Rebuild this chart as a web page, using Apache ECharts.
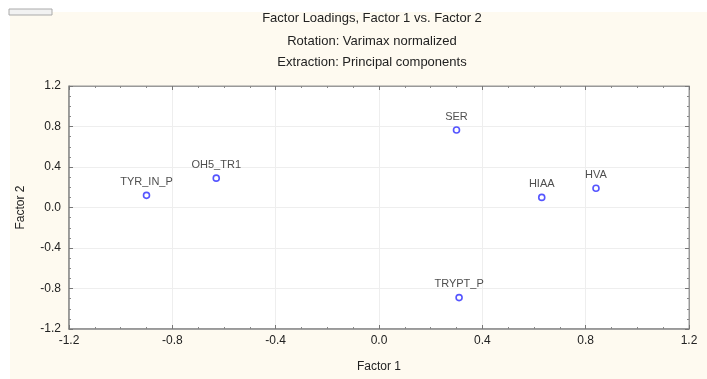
<!DOCTYPE html>
<html>
<head>
<meta charset="utf-8">
<script src="https://cdn.jsdelivr.net/npm/echarts@6/dist/echarts.min.js"></script>
<style>
  html,body{margin:0;padding:0;background:#fff;}
  #chart{width:707px;height:379px;}
</style>
</head>
<body>
<div id="chart"></div>
<script>
// 变量名称
var names=['TYR_IN_P','OH5_TR1','SER','HIAA','HVA','TRYPT_P'];
// Factor 1 载荷
var factor1=[-0.90,-0.63,0.30,0.63,0.84,0.31];
// Factor 2 载荷
var factor2=[0.12,0.29,0.765,0.10,0.19,-0.89];
// 标题
var titles=['Factor Loadings, Factor 1 vs. Factor 2','Rotation: Varimax normalized','Extraction: Principal components'];

var points=names.map(function(n,i){
  return {name:n,value:[factor1[i],factor2[i]]};
});

var fmt=function(v){return v.toFixed(1);};
var tickStyle={show:true,inside:true,length:4,lineStyle:{color:'#777'}};
var minorStyle={show:true,splitNumber:4,length:2,lineStyle:{color:'#888'}};
var titleFont='13px Liberation Sans, Arial';

var chart=echarts.init(document.getElementById('chart'));
chart.setOption({
  backgroundColor:'#fff',
  animation:false,
  textStyle:{fontFamily:'Liberation Sans, Arial, sans-serif'},
  graphic:[
    {type:'rect',shape:{x:10,y:12,width:697,height:367},style:{fill:'#fefaf0'},z:-10},
    {type:'rect',shape:{x:9,y:9,width:43,height:6},style:{fill:'#f2f2f2',stroke:'#aaa',lineWidth:1},z:-5},
    {type:'text',x:372,y:18,style:{text:titles[0],font:titleFont,fill:'#222',align:'center',verticalAlign:'middle'}},
    {type:'text',x:372,y:41,style:{text:titles[1],font:titleFont,fill:'#222',align:'center',verticalAlign:'middle'}},
    {type:'text',x:372,y:62,style:{text:titles[2],font:titleFont,fill:'#222',align:'center',verticalAlign:'middle'}}
  ],
  grid:{left:69,right:18,top:86,bottom:50,show:true,backgroundColor:'#fff',borderColor:'#999',borderWidth:1},
  xAxis:[
    {type:'value',min:-1.2,max:1.2,interval:0.4,position:'bottom',
      name:'Factor 1',nameLocation:'middle',nameGap:32,
      nameTextStyle:{fontSize:12,color:'#222'},
      axisLine:{show:true,onZero:false,lineStyle:{color:'#888',width:1.5}},
      axisTick:tickStyle,minorTick:minorStyle,
      axisLabel:{formatter:fmt,fontSize:12,color:'#222',margin:6},
      splitLine:{show:true,lineStyle:{color:'#eee'}}},
    {type:'value',min:-1.2,max:1.2,interval:0.4,position:'top',
      axisLine:{show:true,onZero:false,lineStyle:{color:'#999'}},
      axisTick:tickStyle,minorTick:minorStyle,
      axisLabel:{show:false},splitLine:{show:false}}
  ],
  yAxis:[
    {type:'value',min:-1.2,max:1.2,interval:0.4,position:'left',
      name:'Factor 2',nameLocation:'middle',nameGap:42,nameRotate:90,
      nameTextStyle:{fontSize:12,color:'#222'},
      axisLine:{show:true,onZero:false,lineStyle:{color:'#888',width:1.5}},
      axisTick:tickStyle,minorTick:minorStyle,
      axisLabel:{formatter:fmt,fontSize:12,color:'#222',margin:8},
      splitLine:{show:true,lineStyle:{color:'#eee'}}},
    {type:'value',min:-1.2,max:1.2,interval:0.4,position:'right',
      axisLine:{show:true,onZero:false,lineStyle:{color:'#999'}},
      axisTick:tickStyle,minorTick:minorStyle,
      axisLabel:{show:false},splitLine:{show:false}}
  ],
  series:[
    {
      type:'scatter',
      xAxisIndex:0,yAxisIndex:0,
      data:points,
      symbol:'circle',
      symbolSize:6,
      itemStyle:{color:'#fff',borderColor:'#2a2aff',borderWidth:1.6},
      label:{show:true,position:'top',distance:4,formatter:'{b}',fontSize:11,color:'#222'}
    }
  ]
});
</script>
</body>
</html>
